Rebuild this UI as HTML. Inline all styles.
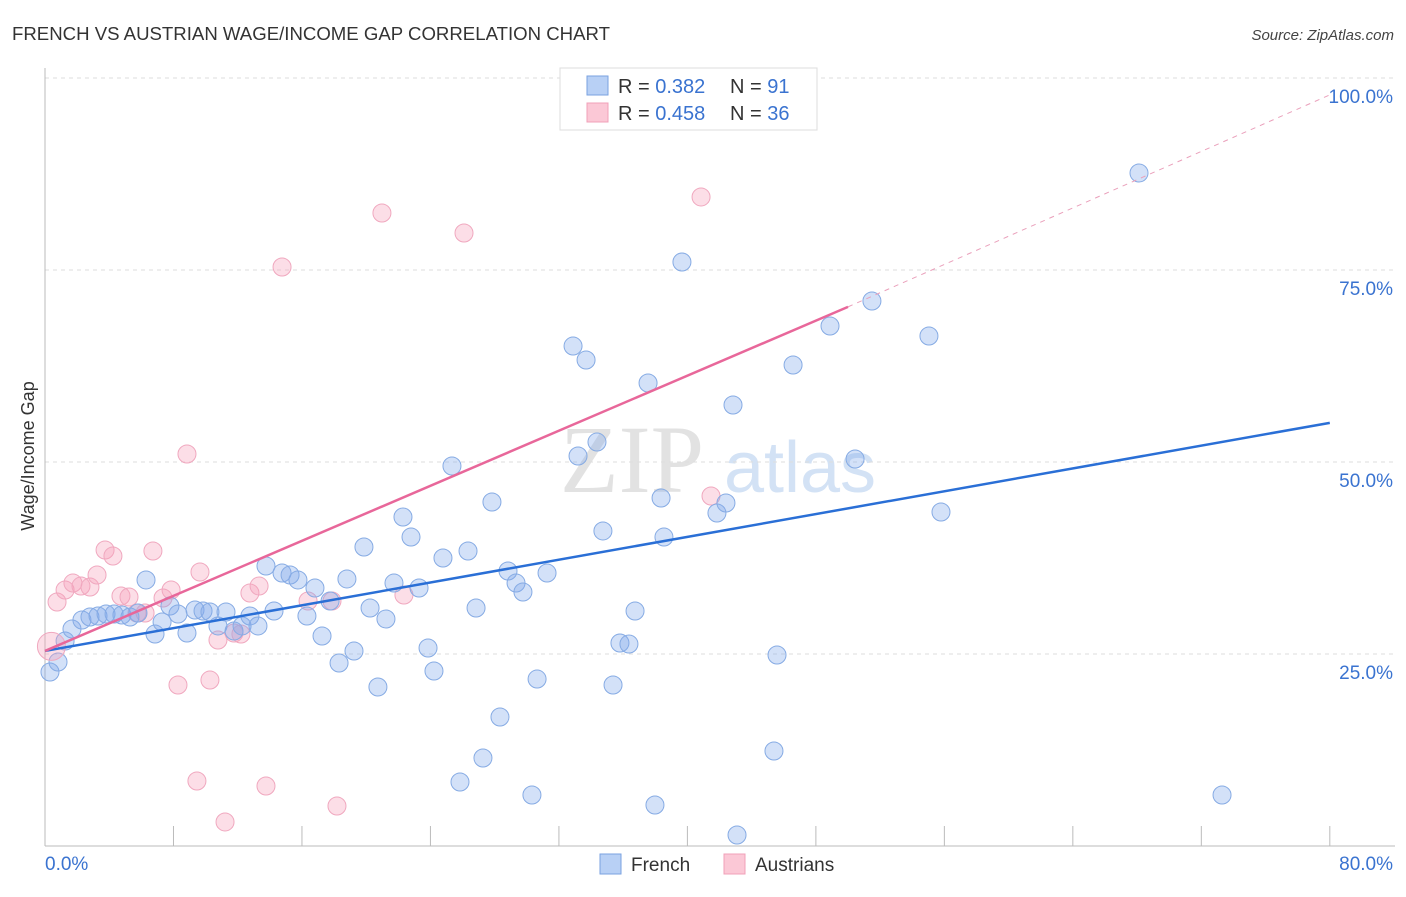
<!DOCTYPE html>
<html><head><meta charset="utf-8"><style>
body{margin:0;background:#fff;font-family:"Liberation Sans",sans-serif;}
svg text{font-family:"Liberation Sans",sans-serif;}
</style></head><body>
<svg id="chart" width="1406" height="892" xmlns="http://www.w3.org/2000/svg">
<text x="12" y="40" font-size="18" fill="#333" textLength="598" lengthAdjust="spacingAndGlyphs">FRENCH VS AUSTRIAN WAGE/INCOME GAP CORRELATION CHART</text>
<text x="1394" y="40" font-size="15" fill="#444" text-anchor="end" font-style="italic">Source: ZipAtlas.com</text>
<g>
<text x="632" y="492" font-size="96" fill="#e2e2e2" text-anchor="middle" font-family="Liberation Serif" style="font-family:'Liberation Serif',serif">ZIP</text>
<text x="800" y="492" font-size="72" fill="#d3e2f5" text-anchor="middle">atlas</text>
</g>
<g id="grid"></g>
<g id="axes"></g>
<g id="pts"></g>
<g id="lines"></g>
<text transform="translate(34,456) rotate(-90)" font-size="18" fill="#333" text-anchor="middle">Wage/Income Gap</text>
<g>
<rect x="560" y="68" width="257" height="62" fill="#fff" stroke="#ddd"/>
<rect x="587" y="76" width="21" height="19" fill="#b8d0f5" stroke="#7aa2e0"/>
<rect x="587" y="103" width="21" height="19" fill="#fbc8d6" stroke="#f0a0b8"/>
<text x="618" y="93" font-size="20" fill="#333">R = <tspan fill="#3a73d0">0.382</tspan></text>
<text x="730" y="93" font-size="20" fill="#333">N = <tspan fill="#3a73d0"> 91</tspan></text>
<text x="618" y="120" font-size="20" fill="#333">R = <tspan fill="#3a73d0">0.458</tspan></text>
<text x="730" y="120" font-size="20" fill="#333">N = <tspan fill="#3a73d0">36</tspan></text>
</g>
<g>
<rect x="600" y="854" width="21" height="20" fill="#b8d0f5" stroke="#7aa2e0"/>
<text x="631" y="871" font-size="19" fill="#333">French</text>
<rect x="724" y="854" width="21" height="20" fill="#fbc8d6" stroke="#f0a0b8"/>
<text x="755" y="871" font-size="19" fill="#333">Austrians</text>
</g>
</svg>
<script>
const yTicks=[25,50,75,100];
const yTickLabels=["25.0%","50.0%","75.0%","100.0%"];
const xTickLabels=["0.0%","80.0%"];
const frenchPx=[[50,672],[58,662],[65,641],[72,629],[82,620],[90,617],[98,616],[106,614],[114,614],[122,615],[130,617],[138,613],[146,580],[155,634],[162,622],[170,606],[178,614],[187,633],[195,610],[203,611],[210,612],[218,626],[226,612],[234,631],[242,626],[250,616],[258,626],[266,566],[274,611],[282,573],[290,575],[298,580],[307,616],[315,588],[322,636],[330,601],[339,663],[347,579],[354,651],[364,547],[370,608],[378,687],[386,619],[394,583],[403,517],[411,537],[419,588],[428,648],[434,671],[443,558],[452,466],[468,551],[476,608],[492,502],[500,717],[508,571],[516,583],[523,592],[483,758],[460,782],[537,679],[532,795],[547,573],[573,346],[578,456],[586,360],[597,442],[603,531],[613,685],[620,643],[629,644],[635,611],[648,383],[655,805],[661,498],[664,537],[682,262],[717,513],[726,503],[733,405],[737,835],[774,751],[777,655],[793,365],[830,326],[855,459],[872,301],[929,336],[941,512],[1139,173],[1222,795]];
const austrianPx=[[57,602],[65,590],[73,583],[81,586],[90,587],[97,575],[105,550],[113,556],[121,596],[129,597],[137,613],[145,613],[153,551],[163,598],[171,590],[178,685],[187,454],[197,781],[200,572],[210,680],[218,640],[225,822],[234,633],[241,634],[250,593],[259,586],[266,786],[282,267],[308,601],[332,601],[337,806],[382,213],[404,595],[464,233],[701,197],[711,496]];
const frenchX=frenchPx.map(p=>+((p[0]-45)/16.06).toFixed(2));
const frenchY=frenchPx.map(p=>+((846-p[1])/7.68).toFixed(2));
const austrianX=austrianPx.map(p=>+((p[0]-45)/16.06).toFixed(2));
const austrianY=austrianPx.map(p=>+((846-p[1])/7.68).toFixed(2));
const frenchTrend=[[0,25.4],[80,55.1]];
const austrianTrend=[[0,25.4],[50,70.2]];
const austrianTrendExt=[[50,70.2],[80,97.8]];
const X=v=>45+v*16.06, Y=v=>846-v*7.68;
const NS="http://www.w3.org/2000/svg";
function mk(t,a,p){const e=document.createElementNS(NS,t);for(const k in a)e.setAttribute(k,a[k]);p.appendChild(e);return e;}
const grid=document.getElementById('grid'),axes=document.getElementById('axes'),pts=document.getElementById('pts'),lines=document.getElementById('lines'),svg=document.getElementById('chart');
yTicks.forEach((v,i)=>{
 const l=mk('line',{x1:45,x2:1395,y1:Y(v),y2:Y(v),stroke:'#ddd','stroke-dasharray':'4,4'},grid);
 
 
 const t=mk('text',{x:1393,y:Y(v)+25,'font-size':19,fill:'#3a73d0','text-anchor':'end'},svg);
 t.textContent=yTickLabels[i];
 
 
});
mk('line',{x1:45,x2:45,y1:68,y2:846,stroke:'#bbb'},axes);
mk('line',{x1:45,x2:1395,y1:846,y2:846,stroke:'#bbb'},axes);
for(let i=0;i<=10;i++){const tk=mk('line',{x1:X(i*8),x2:X(i*8),y1:826,y2:846,stroke:'#bbb'},axes);
 
 }
[[0,45,'start'],[1,1393,'end']].forEach(([i,x,a])=>{const t=mk('text',{x:x,y:870,'font-size':19,fill:'#3a73d0','text-anchor':a},svg);t.textContent=xTickLabels[i];
 
 });
function dots(xs,ys,fill,stroke,name){xs.forEach((x,i)=>{const c=mk('circle',{cx:X(x),cy:Y(ys[i]),r:9,fill:fill,stroke:stroke,'stroke-width':1},pts);
 
 });}
dots(austrianX,austrianY,'rgba(245,160,185,0.35)','#f0a8bf','austrian-point');
dots(frenchX,frenchY,'rgba(130,170,235,0.35)','#86abe4','french-point');
const big=mk('circle',{cx:X(0.4),cy:Y(26),r:14,fill:'rgba(245,160,185,0.35)',stroke:'#f0a8bf'},pts);


function ln(d,col,w,dash,name){const l=mk('line',{x1:X(d[0][0]),y1:Y(d[0][1]),x2:X(d[1][0]),y2:Y(d[1][1]),stroke:col,'stroke-width':w},lines);if(dash)l.setAttribute('stroke-dasharray',dash);
 
 }
ln(frenchTrend,'#2a6fd6',2.5,null,'french-trend-line');
ln(austrianTrend,'#e8679a',2.5,null,'austrian-trend-line');
ln(austrianTrendExt,'#eaa0bb',1,'5,5','austrian-trend-extension');
</script>
</body></html>
